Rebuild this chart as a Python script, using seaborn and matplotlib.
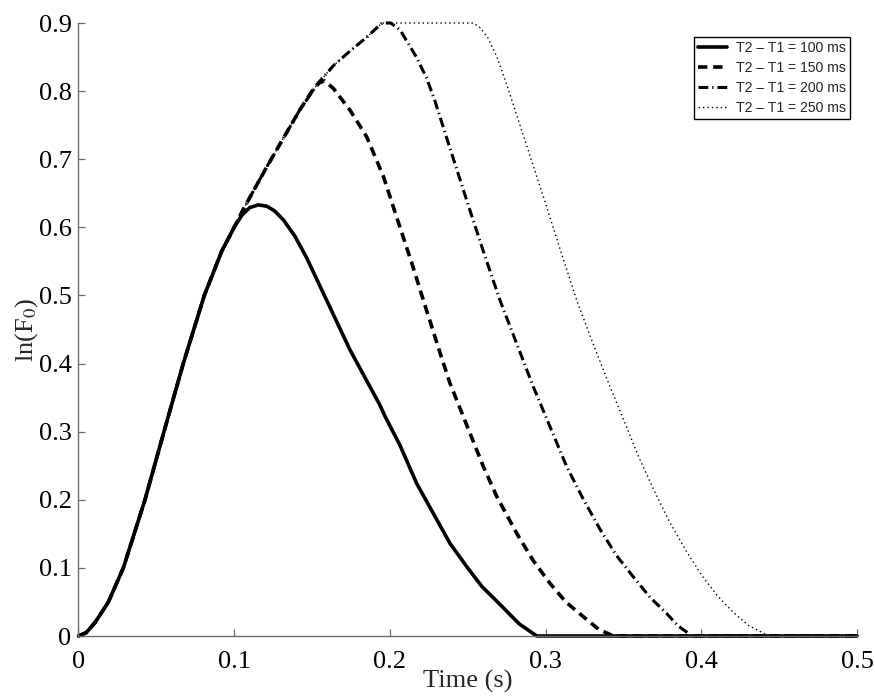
import numpy as np
import pandas as pd
import matplotlib
matplotlib.use("Agg")
import matplotlib.pyplot as plt
import seaborn as sns

# ---- data ----
# shared rising part (common envelope)
rise_t = [0, 0.005, 0.0107, 0.0192, 0.0288, 0.0427, 0.0549, 0.0673, 0.0808, 0.092, 0.1,
          0.106, 0.112, 0.121, 0.1316, 0.1423, 0.154, 0.164, 0.174, 0.185, 0.195]
rise_y = [0, 0.005, 0.02, 0.05, 0.1, 0.2, 0.3, 0.4, 0.5, 0.565, 0.6,
          0.627, 0.652, 0.689, 0.731, 0.773, 0.812, 0.838, 0.858, 0.879, 0.9]

# 100 ms: leaves envelope at t = 0.1
fall100_t = [0.105, 0.110, 0.1155, 0.121, 0.126, 0.1316, 0.139, 0.1466, 0.16, 0.1744, 0.1936,
             0.197, 0.2065, 0.2172, 0.2279, 0.2386, 0.2493, 0.259, 0.2696, 0.283, 0.2943, 0.5]
fall100_y = [0.618, 0.629, 0.633, 0.631, 0.624, 0.611, 0.587, 0.555, 0.49, 0.42, 0.339,
             0.322, 0.28, 0.224, 0.180, 0.136, 0.102, 0.073, 0.049, 0.018, 0.0, 0.0]

# 150 ms: leaves envelope at t = 0.1423
fall150_t = [0.15, 0.1545, 0.158, 0.1637, 0.1744, 0.1851, 0.1958, 0.2065, 0.214, 0.2215,
             0.2333, 0.2386, 0.2472, 0.26, 0.2686, 0.2814, 0.292, 0.3028, 0.313, 0.3242,
             0.334, 0.3435, 0.5]
fall150_y = [0.800, 0.812, 0.815, 0.804, 0.772, 0.733, 0.675, 0.600, 0.548, 0.493,
             0.408, 0.371, 0.322, 0.249, 0.205, 0.151, 0.111, 0.0774, 0.050, 0.0284,
             0.010, 0.0, 0.0]

# 200 ms: reaches 0.9 then falls
fall200_t = [0.2005, 0.2065, 0.217, 0.2236, 0.229, 0.2375, 0.25, 0.26, 0.2707, 0.2921,
             0.3135, 0.3242, 0.3349, 0.3456, 0.3563, 0.367, 0.3778, 0.385, 0.3917, 0.393, 0.5]
fall200_y = [0.9, 0.89, 0.85, 0.819, 0.785, 0.724, 0.635, 0.565, 0.493, 0.366,
             0.249, 0.201, 0.157, 0.118, 0.087, 0.057, 0.033, 0.015, 0.004, 0.0, 0.0]

# 250 ms: plateau at 0.9 then falls
fall250_t = [0.2536, 0.258, 0.263, 0.2686, 0.275, 0.2814, 0.29, 0.30, 0.31, 0.32, 0.33,
             0.34, 0.35, 0.36, 0.37, 0.38, 0.39, 0.40, 0.41, 0.42, 0.43, 0.4409, 0.443, 0.5]
fall250_y = [0.9, 0.893, 0.878, 0.851, 0.81, 0.765, 0.705, 0.635, 0.563, 0.493, 0.432,
             0.374, 0.318, 0.262, 0.212, 0.166, 0.126, 0.090, 0.060, 0.036, 0.016, 0.003, 0.0, 0.0]

labels = ["T2 \u2013 T1 = 100 ms", "T2 \u2013 T1 = 150 ms",
          "T2 \u2013 T1 = 200 ms", "T2 \u2013 T1 = 250 ms"]
rise_end = [0.1, 0.1423, 0.195, 0.195]   # last envelope time used by each series
falls = [(fall100_t, fall100_y), (fall150_t, fall150_y),
         (fall200_t, fall200_y), (fall250_t, fall250_y)]

# ---- build long table ----
rows = []
for lab, end, (ft, fy) in zip(labels, rise_end, falls):
    order = 0
    for t, y in zip(rise_t, rise_y):
        if t <= end + 1e-9:
            rows.append((lab, order, t, y)); order += 1
    for t, y in zip(ft, fy):
        rows.append((lab, order, t, y)); order += 1
df = pd.DataFrame(rows, columns=["series", "order", "t", "y"])

# ---- style ----
sns.set_theme(style="ticks")
plt.rcParams["font.family"] = ["Liberation Serif", "DejaVu Serif"]
plt.rcParams["mathtext.fontset"] = "stix"

fig = plt.figure(figsize=(8.75, 6.97), dpi=100)
ax = fig.add_axes([0.0897, 0.0875, 0.8897, 0.8795])

styles = [
    dict(linestyle="-", lw=2.6),
    dict(linestyle=(0, (2.6, 1.6)), lw=2.6),
    dict(linestyle=(0, (3.2, 1.3, 0.4, 1.3)), lw=2.2),
    dict(linestyle=(0, (1.0, 2.2)), lw=1.0),
]
for lab, st in zip(labels, styles):
    sub = df[df["series"] == lab]
    sns.lineplot(data=sub, x="t", y="y", sort=False, estimator=None, ax=ax,
                 color="black", label=lab, clip_on=False, **st)

ax.set_xlim(0, 0.5)
ax.set_ylim(0, 0.9)
ax.set_xticks([0, 0.1, 0.2, 0.3, 0.4, 0.5])
ax.set_yticks([0, 0.1, 0.2, 0.3, 0.4, 0.5, 0.6, 0.7, 0.8, 0.9])
ax.set_xticklabels(["0", "0.1", "0.2", "0.3", "0.4", "0.5"])
ax.set_yticklabels(["0", "0.1", "0.2", "0.3", "0.4", "0.5", "0.6", "0.7", "0.8", "0.9"])

for s in ["top", "right"]:
    ax.spines[s].set_visible(False)
for s in ["left", "bottom"]:
    ax.spines[s].set_color("#6e6e6e")
    ax.spines[s].set_linewidth(1.0)
ax.tick_params(direction="in", length=5, width=0.9, color="#6e6e6e",
               labelsize=19, labelcolor="black", pad=5)
ax.tick_params(axis="x", pad=10.5)

ax.set_xlabel("Time (s)", fontsize=19, labelpad=-2)
ax.set_ylabel(r"ln(F$_0$)", fontsize=19, labelpad=-1)

leg = ax.legend(loc="upper right", bbox_to_anchor=(0.991, 0.977), borderaxespad=0,
                fancybox=False, framealpha=1, edgecolor="black",
                prop={"family": ["Liberation Sans"], "size": 10.1},
                handlelength=2.1, labelspacing=0.42, borderpad=0.3, handletextpad=0.6)
leg.get_frame().set_linewidth(1.0)

fig.savefig("out.png", dpi=100)
